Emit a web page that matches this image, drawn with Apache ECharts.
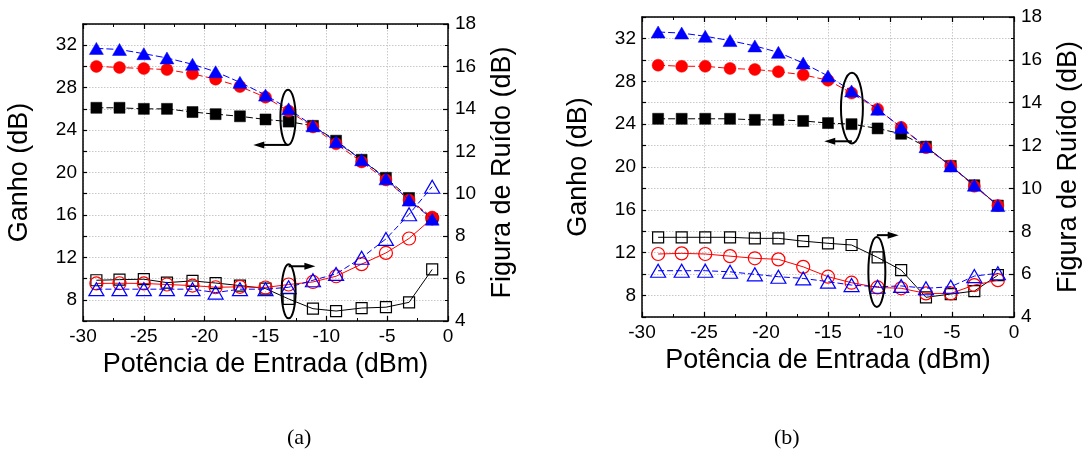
<!DOCTYPE html>
<html>
<head>
<meta charset="utf-8">
<script src="https://cdn.jsdelivr.net/npm/echarts@6/dist/echarts.min.js"></script>
<style>html,body{margin:0;padding:0;background:#fff}#c{width:1083px;height:456px}</style>
</head>
<body>
<div id="c"></div>
<script>
// ---- data ----
const xA = [-28.9,-27,-25,-23.1,-21,-19.1,-17.1,-15,-13.1,-11.1,-9.2,-7.1,-5.1,-3.2,-1.3];
const xB = [-28.7,-26.8,-24.9,-22.9,-20.9,-19,-17,-15,-13.1,-11,-9.1,-7.1,-5.1,-3.2,-1.3];

const gainA_sq = [26.1,26.1,26.0,26.0,25.7,25.5,25.3,25.0,24.8,24.4,23.0,21.2,19.5,17.6,15.6];
const gainA_ci = [30.0,29.9,29.8,29.7,29.3,28.8,28.1,27.1,25.8,24.3,22.7,21.0,19.3,17.4,15.8];
const gainA_tr = [31.7,31.6,31.2,30.8,30.2,29.5,28.5,27.3,26.0,24.4,22.9,21.2,19.4,17.4,15.6];
const nfA_sq = [5.92,5.95,5.97,5.81,5.89,5.79,5.67,5.53,5.04,4.58,4.47,4.61,4.65,4.88,6.43];
const nfA_ci = [5.77,5.78,5.77,5.72,5.67,5.59,5.61,5.58,5.72,5.84,6.11,6.68,7.21,7.89,8.84];
const nfA_tr = [5.5,5.5,5.5,5.5,5.5,5.34,5.5,5.5,5.59,5.92,6.22,6.98,7.87,9.03,10.33];

const gainB_sq = [24.5,24.5,24.5,24.5,24.4,24.4,24.3,24.1,24.0,23.6,23.1,21.9,20.1,18.3,16.4];
const gainB_ci = [29.5,29.4,29.4,29.2,29.1,28.9,28.6,28.1,26.9,25.4,23.7,21.8,20.1,18.2,16.4];
const gainB_tr = [32.6,32.5,32.2,31.8,31.3,30.7,29.7,28.5,27.1,25.4,23.7,21.9,20.1,18.3,16.4];
const nfB_sq = [7.72,7.72,7.72,7.72,7.67,7.67,7.54,7.44,7.36,6.78,6.19,4.92,5.07,5.21,5.95];
const nfB_ci = [6.94,6.97,6.94,6.84,6.74,6.69,6.34,5.88,5.6,5.38,5.34,5.1,5.1,5.49,5.72];
const nfB_tr = [6.16,6.16,6.16,6.11,5.99,5.88,5.8,5.65,5.49,5.41,5.45,5.34,5.41,5.91,6.04];

const gainTickLabels = [8,12,16,20,24,28,32];
const xTitle = 'Potência de Entrada (dBm)';
const yLeftTitle = 'Ganho (dB)';
const yRightTitle = 'Figura de Ruído (dB)';
const captions = ['(a)', '(b)'];

// annotations in data coords
const annotA = [
  {cx:-13.15, cy:25.2, ax:'g', w:1.25, h:5.2, ay:22.6, ato:-16.0},
  {cx:-13.1, cy:5.4, ax:'n', w:1.15, h:2.55, ay:6.58, ato:-10.9}
];
const annotB = [
  {cx:-13.07, cy:25.5, ax:'g', w:1.77, h:6.6, ay:22.4, ato:-15.3},
  {cx:-11.06, cy:6.1, ax:'n', w:1.37, h:3.26, ay:7.82, ato:-9.3}
];

// ---- chart ----
const FONT = 'Liberation Sans, Arial, sans-serif';
const chart = echarts.init(document.getElementById('c'), null, {renderer:'canvas'});
const zip = (xs, ys) => xs.map((x,i)=>[x, ys[i]]);

const grids = [
  {left:83, top:24, width:365, height:297},
  {left:642, top:17, width:374, height:300}
];

function xAxes(gi) {
  const common = {
    gridIndex: gi, type:'value', min:-30, max:0, interval:5,
    axisLine:{show:true, onZero:false, lineStyle:{color:'#000', width:1.5}},
    axisTick:{show:true, inside:true, length:5, lineStyle:{color:'#000', width:1.2}},
    minorTick:{show:true, splitNumber:2, length:3, lineStyle:{color:'#000', width:1}},
  };
  return [
    Object.assign({}, common, {
      position:'bottom',
      axisLabel:{color:'#000', fontSize:19, fontFamily:FONT, margin:6},
      splitLine:{show:true, lineStyle:{color:'#c8c8c8', type:[1.5,1.5], width:1}},
      name:xTitle, nameLocation:'middle', nameGap:30,
      nameTextStyle:{color:'#000', fontSize:27, fontFamily:FONT}
    }),
    Object.assign({}, common, {
      position:'top', axisLabel:{show:false}, splitLine:{show:false}
    })
  ];
}
function yAxes(gi) {
  return [
    {
      gridIndex:gi, type:'value', position:'left', min:6, max:34, interval:2,
      axisLine:{show:true, onZero:false, lineStyle:{color:'#000', width:1.5}},
      axisTick:{show:true, inside:true, length:4, lineStyle:{color:'#000', width:1.2}},
      axisLabel:{color:'#000', fontSize:19, fontFamily:FONT, margin:6,
        formatter: v => gainTickLabels.indexOf(v) >= 0 ? String(v) : ''},
      splitLine:{show:false},
      name:yLeftTitle, nameLocation:'middle', nameGap:50, nameRotate:90,
      nameTextStyle:{color:'#000', fontSize:27, fontFamily:FONT}
    },
    {
      gridIndex:gi, type:'value', position:'right', min:4, max:18, interval:2,
      axisLine:{show:true, onZero:false, lineStyle:{color:'#000', width:1.5}},
      axisTick:{show:true, inside:true, length:5, lineStyle:{color:'#000', width:1.2}},
      minorTick:{show:true, splitNumber:2, length:3, lineStyle:{color:'#000', width:1}},
      axisLabel:{color:'#000', fontSize:19, fontFamily:FONT, margin:7},
      splitLine:{show:true, lineStyle:{color:'#c8c8c8', type:[1.5,1.5], width:1}},
      minorSplitLine:{show:true, lineStyle:{color:'#c8c8c8', type:[1.5,1.5], width:1}},
      name:yRightTitle, nameLocation:'middle', nameGap:41, nameRotate:90,
      nameTextStyle:{color:'#000', fontSize:27, fontFamily:FONT}
    }
  ];
}

function filled(data, xi, yi, color, symbol, size, z) {
  return {type:'line', xAxisIndex:xi, yAxisIndex:yi, data, symbol, symbolSize:size,
    showSymbol:true, z,
    itemStyle:{color, borderColor:color, borderWidth:0.5},
    lineStyle:{color, width:1, type:[7,3]}, silent:true};
}
function hollow(data, xi, yi, color, symbol, size, dashed, z) {
  return {type:'line', xAxisIndex:xi, yAxisIndex:yi, data, symbol, symbolSize:size,
    showSymbol:true, z,
    itemStyle:{color:'rgba(255,255,255,0)', borderColor:color, borderWidth:1.2},
    lineStyle:{color, width:1, type: dashed ? [6,3] : 'solid'}, silent:true};
}

const series = [
  hollow(zip(xA,nfA_sq), 0, 1, '#000', 'rect', [11,11], false, 2),
  hollow(zip(xA,nfA_ci), 0, 1, '#ff0000', 'circle', 13, false, 3),
  hollow(zip(xA,nfA_tr), 0, 1, '#0000ff', 'triangle', [15,13], true, 4),
  filled(zip(xA,gainA_sq), 0, 0, '#000', 'rect', [11,11], 5),
  filled(zip(xA,gainA_ci), 0, 0, '#ff0000', 'circle', 12, 6),
  filled(zip(xA,gainA_tr), 0, 0, '#0000ff', 'triangle', [14,12], 7),
  hollow(zip(xB,nfB_sq), 2, 3, '#000', 'rect', [11,11], false, 2),
  hollow(zip(xB,nfB_ci), 2, 3, '#ff0000', 'circle', 13, false, 3),
  hollow(zip(xB,nfB_tr), 2, 3, '#0000ff', 'triangle', [15,13], true, 4),
  filled(zip(xB,gainB_sq), 2, 2, '#000', 'rect', [11,11], 5),
  filled(zip(xB,gainB_ci), 2, 2, '#ff0000', 'circle', 12, 6),
  filled(zip(xB,gainB_tr), 2, 2, '#0000ff', 'triangle', [14,12], 7),
];

chart.setOption({
  animation:false,
  backgroundColor:'#fff',
  grid: grids,
  xAxis: [...xAxes(0), ...xAxes(1)],
  yAxis: [...yAxes(0), ...yAxes(1)],
  series
});

function annotGraphics(list, xIdx, gIdx, nIdx) {
  const out = [];
  list.forEach(a => {
    const yi = a.ax === 'g' ? gIdx : nIdx;
    const px = chart.convertToPixel({xAxisIndex:xIdx}, a.cx);
    const py = chart.convertToPixel({yAxisIndex:yi}, a.cy);
    const rx = Math.abs(chart.convertToPixel({xAxisIndex:xIdx}, a.cx + a.w/2) - px);
    const ry = Math.abs(chart.convertToPixel({yAxisIndex:yi}, a.cy + a.h/2) - py);
    out.push({type:'ellipse', shape:{cx:px, cy:py, rx, ry}, z:100,
      style:{fill:'none', stroke:'#000', lineWidth:2}});
    const ay = chart.convertToPixel({yAxisIndex:yi}, a.ay);
    const ax1 = chart.convertToPixel({xAxisIndex:xIdx}, a.ato);
    const dir = ax1 < px ? -1 : 1;
    out.push({type:'line', shape:{x1:px, y1:ay, x2:ax1 - dir*8, y2:ay}, z:100,
      style:{stroke:'#000', lineWidth:2}});
    out.push({type:'polygon', shape:{points:[[ax1, ay],[ax1 - dir*11, ay-3.5],[ax1 - dir*11, ay+3.5]]}, z:100,
      style:{fill:'#000'}});
  });
  return out;
}

const capStyle = {fill:'#000', fontSize:22, fontFamily:'Liberation Serif, Times New Roman, serif'};
const graphics = [
  ...annotGraphics(annotA, 0, 0, 1),
  ...annotGraphics(annotB, 2, 2, 3),
  {type:'text', left:287, top:427, z:100, style:Object.assign({text:captions[0]}, capStyle)},
  {type:'text', left:774, top:427, z:100, style:Object.assign({text:captions[1]}, capStyle)}
];
chart.setOption({graphic: graphics});
</script>
</body>
</html>
